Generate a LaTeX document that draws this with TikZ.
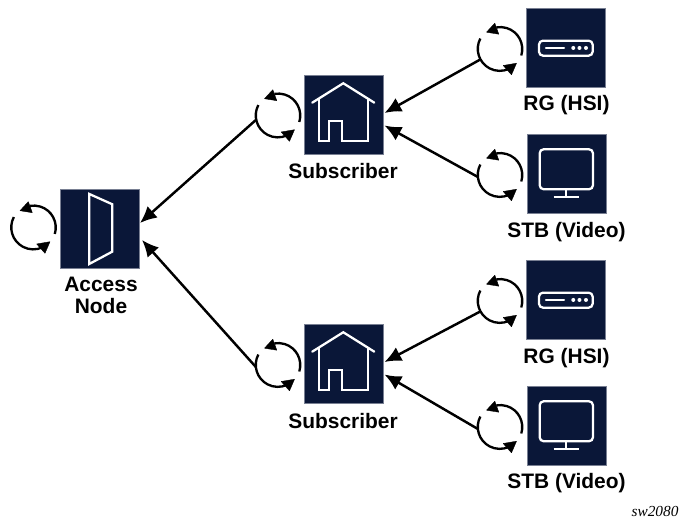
\documentclass[tikz,border=0pt]{standalone}
\usepackage{fontspec}
\setmainfont{Liberation Sans}
\newfontfamily\tagfont{Liberation Serif}
\usetikzlibrary{arrows.meta}
\definecolor{navy}{HTML}{0A1738}
\tikzset{
  box/.style={fill=navy,draw=navy!55!white,line width=.3pt,minimum size=59pt,inner sep=0pt},
  icon/.style={draw=white,line width=1.7pt,fill=none},
  looparc/.style={draw=black,line width=1.75pt},
  loophead/.style={fill=black,draw=black,line width=.3pt,line join=round},
  loopnode/.style={circle,minimum size=33pt,inner sep=0pt,draw=none},
  link/.style={draw=black,line width=1.85pt,-{Latex[length=12.5pt,width=11.5pt]}},
  lab/.style={font=\fontsize{15.7}{15.9}\selectfont\bfseries,inner sep=0pt,align=center,text=black},
}
\newcommand{\loopat}[3]{%
  \node[loopnode] (#1) at (#2,#3) {};
  \draw[looparc] (#1.-17) arc[start angle=-17,end angle=100,radius=16.5pt];
  \draw[looparc] (#1.152) arc[start angle=152,end angle=295,radius=16.5pt];
  \fill[loophead] ([shift={(-13.5,16.8)}]#1.center) -- ([shift={(-5.2,25.8)}]#1.center) -- ([shift={(-1.2,14.8)}]#1.center) -- cycle;
  \fill[loophead] ([shift={(16.5,-14.2)}]#1.center) -- ([shift={(3.2,-16.5)}]#1.center) -- ([shift={(11.5,-25.8)}]#1.center) -- cycle;
}
\newcommand{\house}[1]{%
  \begin{scope}[shift={(#1.north west)}]
    \draw[icon,line cap=round,line join=miter] (8.3,-27.7) -- (39.3,-8.3) -- (70.3,-27.7);
    \draw[icon] (15,-23) -- (15,-65.7) -- (25.3,-65.7) -- (25.3,-46) -- (38.3,-46) -- (38.3,-65.7) -- (64,-65.7) -- (64,-23);
  \end{scope}
}
\newcommand{\router}[1]{%
  \begin{scope}[shift={(#1.north west)}]
    \draw[icon,rounded corners=3pt] (13,-32.7) rectangle (66.7,-47.7);
    \draw[icon,line cap=round] (20,-40) -- (38,-40);
    \fill[white] (47.3,-40) circle[radius=1.5pt] (53.5,-40) circle[radius=1.5pt] (60,-40) circle[radius=1.5pt];
  \end{scope}
}
\newcommand{\screen}[1]{%
  \begin{scope}[shift={(#1.north west)}]
    \draw[icon,rounded corners=3pt] (12.7,-15.3) rectangle (66,-55.3);
    \draw[icon] (39.3,-55.3) -- (39.3,-62.7) (26.7,-62.7) -- (52,-62.7);
  \end{scope}
}
\begin{document}
\begin{tikzpicture}[x=.75pt,y=.75pt]
\useasboundingbox (0,0) rectangle (682,518);
% boxes
\node[box] (access) at (99.5,289.5) {};
\node[box] (subA) at (343.5,403.5) {};
\node[box] (subB) at (343.5,154.5) {};
\node[box] (rgA) at (565.5,470.5) {};
\node[box] (stbA) at (566.5,344.5) {};
\node[box] (rgB) at (565.5,218.5) {};
\node[box] (stbB) at (566.5,92.5) {};
% icons
\begin{scope}[shift={(access.north west)}]
  \draw[icon,line join=miter] (29.3,-5) -- (52.3,-15.3) -- (52.3,-62.7) -- (29.3,-75) -- cycle;
\end{scope}
\house{subA}\house{subB}
\router{rgA}\router{rgB}
\screen{stbA}\screen{stbB}
% labels
\node[lab] (labAccess) at (101,222.5) {Access\\[1pt]Node};
\node[lab] (labSubA) at (343,347) {Subscriber};
\node[lab] (labSubB) at (343,97) {Subscriber};
\node[lab] (labRgA) at (566.5,413) {RG (HSI)};
\node[lab] (labRgB) at (566.5,160) {RG (HSI)};
\node[lab] (labStbA) at (566.5,286) {STB (Video)};
\node[lab] (labStbB) at (566.5,35) {STB (Video)};
\node[inner sep=0pt] (tag) at (655,6.5) {\tagfont\itshape\fontsize{11.5}{13}\selectfont sw2080};
% loops
\loopat{loopAccess}{33.5}{290.5}
\loopat{loopSubA}{278}{402.5}
\loopat{loopSubB}{278}{153}
\loopat{loopRgA}{500}{469}
\loopat{loopStbA}{500}{343}
\loopat{loopRgB}{500}{217}
\loopat{loopStbB}{500}{91}
% connectors
\draw[link] (loopSubA.191) -- ([shift={(1,5.5)}]access.east);
\draw[link] (loopSubB.185) -- ([shift={(3,-11.5)}]access.east);
\draw[link] (loopRgA.208) -- ([shift={(1.5,1.5)}]subA.east);
\draw[link] (loopStbA.185) -- ([shift={(1.5,-11)}]subA.east);
\draw[link] (loopRgB.208) -- ([shift={(1.5,1.5)}]subB.east);
\draw[link] (loopStbB.185) -- ([shift={(1.5,-11)}]subB.east);
\end{tikzpicture}
\end{document}
